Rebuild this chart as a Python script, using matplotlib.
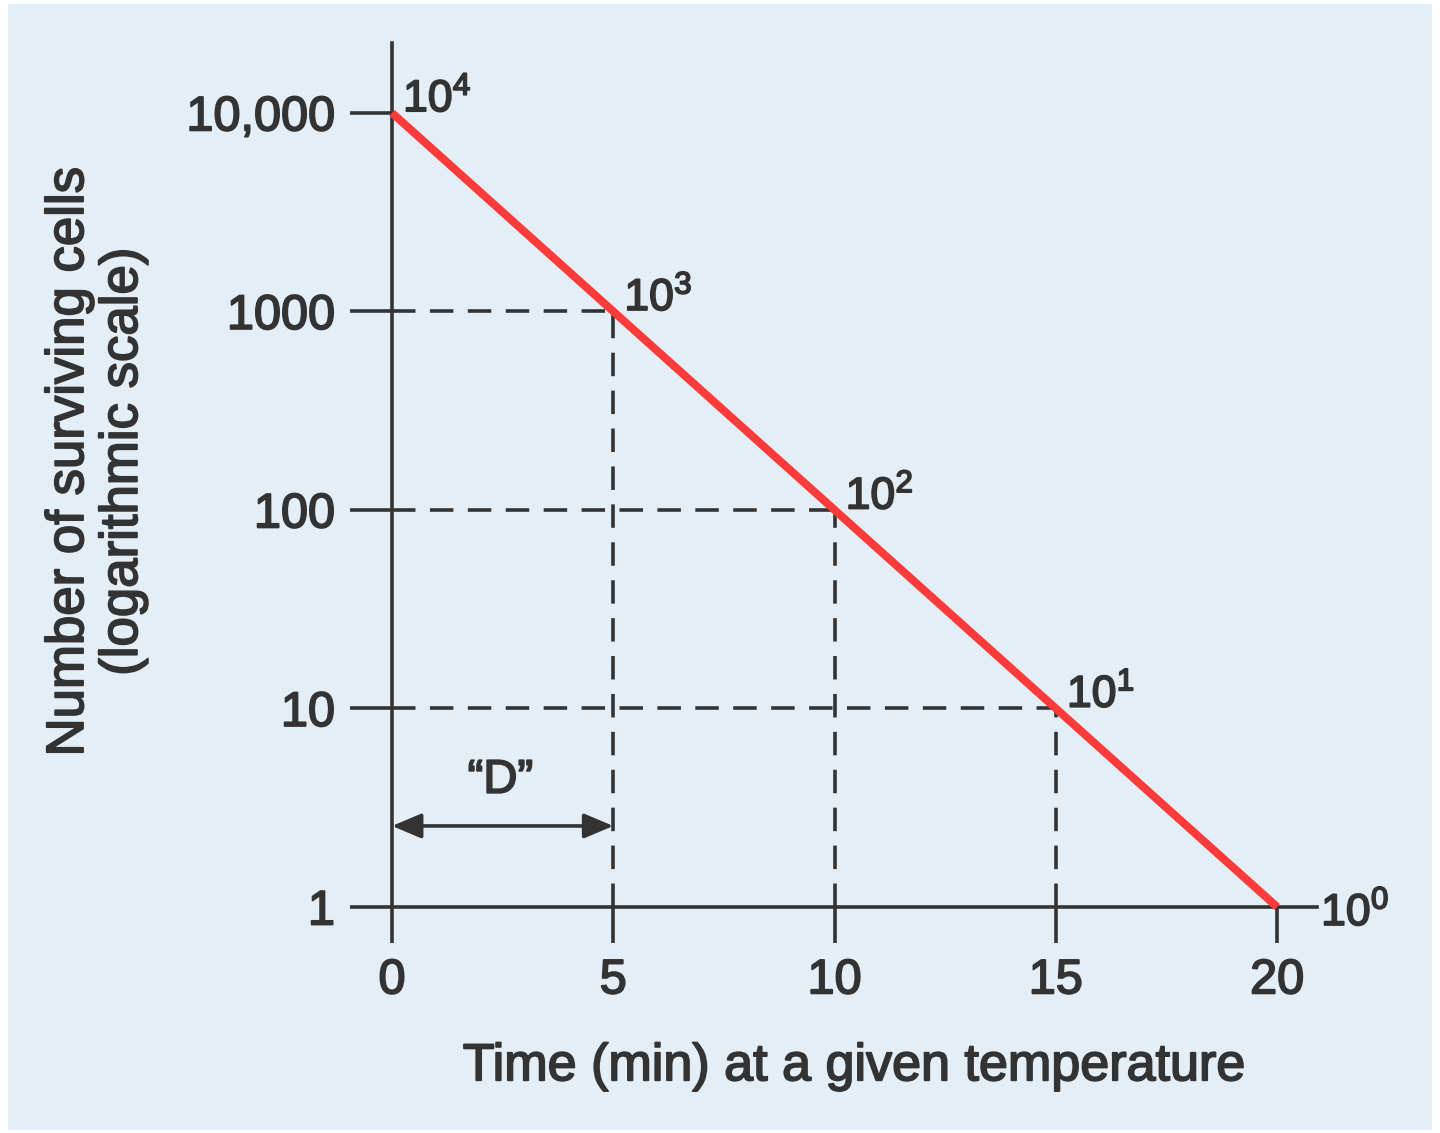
import matplotlib
matplotlib.use("Agg")
import matplotlib.pyplot as plt
import matplotlib.patheffects as pe
from matplotlib.patches import Rectangle

plt.rcParams['font.family'] = ['Liberation Sans', 'DejaVu Sans']
plt.rcParams['mathtext.fontset'] = 'custom'
plt.rcParams['mathtext.rm'] = 'Liberation Sans'
plt.rcParams['mathtext.it'] = 'Liberation Sans:italic'

# data
times = [0, 5, 10, 15, 20]
survivors = [10000, 1000, 100, 10, 1]
exponents = [4, 3, 2, 1, 0]
y_ticks = [1, 10, 100, 1000, 10000]
y_ticklabels = ['1', '10', '100', '1000', '10,000']
x_ticks = [0, 5, 10, 15, 20]
d_span = [0, 5]

ink = '#333333'
red = '#fd3b3b'
panel = '#e3eef7'
heavy = [pe.withStroke(linewidth=1.3, foreground=ink)]

fig = plt.figure(figsize=(14.4, 11.33), dpi=100)
fig.patch.set_facecolor('white')
W, H = 1440, 1133
fig.patches.append(Rectangle((8 / W, 3 / H), 1424 / W, 1126 / H, transform=fig.transFigure,
                             facecolor=panel, edgecolor='none', zorder=-10))

ax = fig.add_axes([392 / W, 226 / H, 925 / W, 864 / H])
ax.set_zorder(1)
ax.set_facecolor('none')
ax.set_yscale('log')
ax.set_xlim(0, 20.9)
ax.set_ylim(1, 22500)

for side in ['top', 'right']:
    ax.spines[side].set_visible(False)
for side in ['left', 'bottom']:
    ax.spines[side].set_color(ink)
    ax.spines[side].set_linewidth(2.6)

ax.set_xticks(x_ticks)
ax.set_xticklabels([str(t) for t in x_ticks])
ax.set_yticks(y_ticks)
ax.set_yticklabels(y_ticklabels)
ax.yaxis.set_minor_locator(matplotlib.ticker.NullLocator())
ax.tick_params(axis='x', direction='out', length=26, width=2.6, color=ink,
               labelsize=35, labelcolor=ink, pad=11)
ax.tick_params(axis='y', direction='out', length=30, width=2.6, color=ink,
               labelsize=35, labelcolor=ink, pad=11)
for lab in ax.get_xticklabels() + ax.get_yticklabels():
    lab.set_path_effects(heavy)

# dashed guide lines
for t, n in zip(times[1:4], survivors[1:4]):
    ax.plot([0, t], [n, n], color=ink, lw=2.6, ls=(0, (6.5, 4)), zorder=2)
    ax.plot([t, t], [1, n], color=ink, lw=2.6, ls=(0, (6.5, 4)), zorder=2)

# survival curve
ax.plot(times, survivors, color=red, lw=5.8, solid_capstyle='butt', zorder=3, clip_on=False)

# power labels
for t, n, e in zip(times[:4], survivors[:4], exponents[:4]):
    ax.annotate(r'$\mathregular{10^{%d}}$' % e, (t, n), xytext=(8, 1), textcoords='offset points',
                ha='left', va='baseline', fontsize=32, color=ink, annotation_clip=False,
                path_effects=heavy)
ax.annotate(r'$\mathregular{10^{%d}}$' % exponents[4], (20.9, survivors[4]), xytext=(3, -13),
            textcoords='offset points', ha='left', va='baseline', fontsize=32, color=ink,
            annotation_clip=False, path_effects=heavy)

# D-value arrow
ax.annotate('', xy=(d_span[1], 2.56), xytext=(d_span[0], 2.56),
            arrowprops=dict(arrowstyle='<|-|>,head_length=0.9,head_width=0.38',
                            color=ink, lw=2.6, shrinkA=0, shrinkB=0, mutation_scale=20))
ax.text(2.45, 3.35, '\u201cD\u201d', ha='center', va='bottom', fontsize=34, color=ink,
        path_effects=heavy)

ax.set_xlabel('Time (min) at a given temperature', fontsize=37.5, color=ink, labelpad=28,
              path_effects=heavy)
fig.text(96 / W, 1 - 462 / H, 'Number of surviving cells\n(logarithmic scale)', rotation=90,
         ha='center', va='center', fontsize=38, color=ink, linespacing=1.1,
         path_effects=heavy)

fig.savefig('out.png', dpi=100)
